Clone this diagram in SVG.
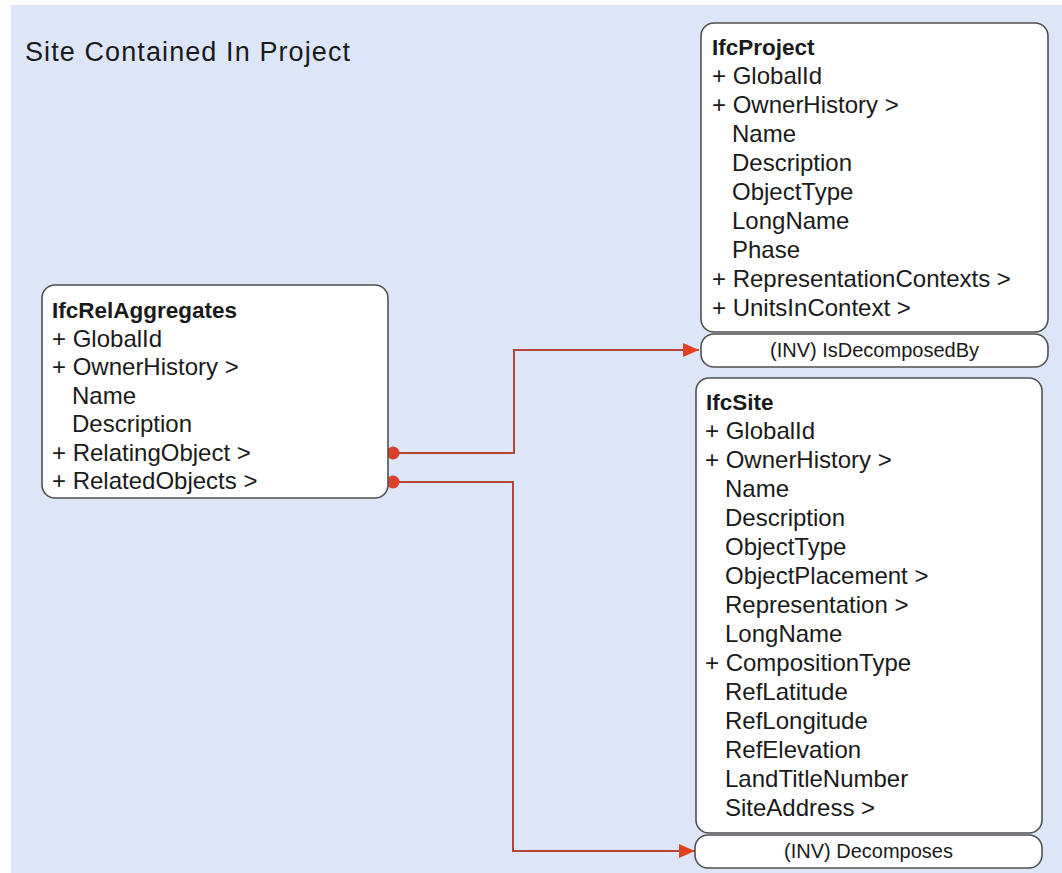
<svg xmlns="http://www.w3.org/2000/svg" width="1062" height="873" viewBox="0 0 1062 873">
<defs>
<style>
.t{font-family:"Liberation Sans",Arial,sans-serif;font-size:24px;fill:#1a1a1a}
.h{font-family:"Liberation Sans",Arial,sans-serif;font-size:22.5px;font-weight:bold;fill:#1a1a1a}
.inv{font-family:"Liberation Sans",Arial,sans-serif;font-size:20px;fill:#1a1a1a;text-anchor:middle}
.box{fill:#ffffff;stroke:#505050;stroke-width:1.6}
.conn{fill:none;stroke:#b8433a;stroke-width:2}
</style>
<marker id="arr" viewBox="0 0 16 14" markerWidth="16" markerHeight="14" refX="16" refY="7" orient="auto" markerUnits="userSpaceOnUse">
<path d="M0,0 L16,7 L0,14 z" fill="#e0421f"/>
</marker>
<marker id="dot" viewBox="0 0 14 14" markerWidth="14" markerHeight="14" refX="7" refY="7" markerUnits="userSpaceOnUse">
<circle cx="7" cy="7" r="6.5" fill="#dc3f2a"/>
</marker>
</defs>
<rect x="0" y="0" width="1062" height="873" fill="#ffffff"/>
<rect x="11" y="5" width="1051" height="868" fill="#dce6f8"/>
<text x="25" y="61" font-family="Liberation Sans, Arial, sans-serif" font-size="27" fill="#1a1a1a" textLength="325" lengthAdjust="spacing">Site Contained In Project</text>

<g id="connectors">
<path class="conn" d="M393,453 H514 V350 H699" marker-start="url(#dot)" marker-end="url(#arr)"/>
<path class="conn" d="M393,482 H513 V851 H695" marker-start="url(#dot)" marker-end="url(#arr)"/>
</g>

<g id="IfcRelAggregates">
<rect class="box" x="42" y="285" width="346" height="213" rx="13"/>
<text class="h" x="52" y="318">IfcRelAggregates</text>
<text class="t" x="52" y="346.5">+ GlobalId</text>
<text class="t" x="52" y="375">+ OwnerHistory &gt;</text>
<text class="t" x="72" y="403.5">Name</text>
<text class="t" x="72" y="432">Description</text>
<text class="t" x="52" y="460.5">+ RelatingObject &gt;</text>
<text class="t" x="52" y="489">+ RelatedObjects &gt;</text>
</g>

<g id="IfcProject">
<rect class="box" x="701" y="23" width="347" height="309" rx="13"/>
<rect class="box" x="701" y="334" width="347" height="33" rx="13"/>
<text class="h" x="712" y="55">IfcProject</text>
<text class="t" x="712" y="84">+ GlobalId</text>
<text class="t" x="712" y="113">+ OwnerHistory &gt;</text>
<text class="t" x="732" y="142">Name</text>
<text class="t" x="732" y="171">Description</text>
<text class="t" x="732" y="200">ObjectType</text>
<text class="t" x="732" y="229">LongName</text>
<text class="t" x="732" y="258">Phase</text>
<text class="t" x="712" y="287">+ RepresentationContexts &gt;</text>
<text class="t" x="712" y="316">+ UnitsInContext &gt;</text>
<text class="inv" x="874.5" y="357">(INV) IsDecomposedBy</text>
</g>

<g id="IfcSite">
<rect class="box" x="696" y="378" width="346" height="455" rx="13"/>
<rect class="box" x="695" y="835" width="347" height="33" rx="13"/>
<text class="h" x="706" y="410">IfcSite</text>
<text class="t" x="705" y="439">+ GlobalId</text>
<text class="t" x="705" y="468">+ OwnerHistory &gt;</text>
<text class="t" x="725" y="497">Name</text>
<text class="t" x="725" y="526">Description</text>
<text class="t" x="725" y="555">ObjectType</text>
<text class="t" x="725" y="584">ObjectPlacement &gt;</text>
<text class="t" x="725" y="613">Representation &gt;</text>
<text class="t" x="725" y="641.5">LongName</text>
<text class="t" x="705" y="670.5">+ CompositionType</text>
<text class="t" x="725" y="699.5">RefLatitude</text>
<text class="t" x="725" y="728.5">RefLongitude</text>
<text class="t" x="725" y="757.5">RefElevation</text>
<text class="t" x="725" y="786.5">LandTitleNumber</text>
<text class="t" x="725" y="815.5">SiteAddress &gt;</text>
<text class="inv" x="868.5" y="858">(INV) Decomposes</text>
</g>
</svg>
